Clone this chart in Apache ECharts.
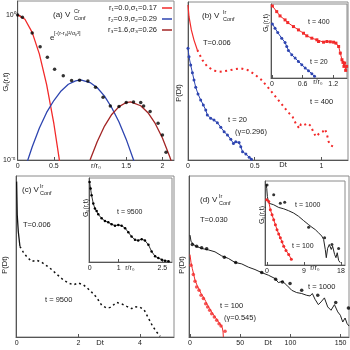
<!DOCTYPE html>
<html>
<head>
<meta charset="utf-8">
<script src="https://cdn.jsdelivr.net/npm/echarts@6/dist/echarts.min.js"></script>
<style>
  html, body { margin: 0; padding: 0; background: #fff; }
  #chart { width: 350px; height: 350px; }
</style>
</head>
<body>
<div id="chart"></div>
<script>
// ---- data ----
// (a) log10 G_s vs r/r0
var aRed = [[0, 0], [0.1, -0.15], [0.2, -0.6], [0.3, -1.35], [0.4, -2.4], [0.5, -3.75], [0.57, -4.9], [0.6, -5.4]];
var aBlue = [[0.1, -5.3], [0.2, -4.55], [0.3, -3.9], [0.4, -3.36], [0.5, -2.95], [0.6, -2.62], [0.7, -2.39], [0.8, -2.27],
  [0.87, -2.24], [1.0, -2.33], [1.1, -2.51], [1.2, -2.8], [1.3, -3.2], [1.4, -3.69], [1.5, -4.29], [1.6, -4.99], [1.65, -5.4]];
var aDark = [[1.0, -5.0], [1.1, -4.36], [1.2, -3.83], [1.3, -3.43], [1.4, -3.16], [1.5, -3.02], [1.56, -3.0], [1.7, -3.13],
  [1.8, -3.37], [1.9, -3.74], [2.0, -4.24], [2.1, -4.88], [2.2, -5.6]];
var aDots = [[0, 0], [0.065, -0.08], [0.2, -0.62], [0.31, -1.1], [0.41, -1.46], [0.51, -1.87], [0.63, -2.1], [0.745, -2.26],
  [0.855, -2.25], [0.97, -2.28], [1.076, -2.49], [1.18, -2.84], [1.28, -3.14], [1.4, -3.16], [1.5, -3.02], [1.6, -3.0],
  [1.7, -3.02], [1.74, -3.14], [1.83, -3.33], [1.94, -3.73], [2.0, -4.14], [2.05, -4.73]];
var aLegend = ['r\u2081=0.0,\u03c3\u2081=0.17', 'r\u2082=0.9,\u03c3\u2082=0.29', 'r\u2083=1.6,\u03c3\u2083=0.26'];

// (b) P(Dt), height in % of the frame
var bT20 = [[0, 70.7], [0.0075, 65.4], [0.02, 60.1], [0.033, 55.3], [0.045, 50.6], [0.058, 46.0], [0.075, 41.8], [0.095, 38.0],
  [0.115, 34.8], [0.133, 31.6], [0.145, 28.5], [0.17, 26.4], [0.195, 25.3], [0.22, 23.6], [0.246, 20.7], [0.271, 17.9],
  [0.296, 15.8], [0.321, 13.1], [0.341, 10.5], [0.358, 11.6], [0.383, 11.0], [0.396, 8.4], [0.409, 5.3], [0.434, 3.8],
  [0.459, 1.7], [0.476, 0.4]];
var bT400 = [[0, 98.1], [0.0075, 90.7], [0.025, 82.3], [0.045, 75.9], [0.07, 69.6], [0.108, 63.3], [0.145, 59.1], [0.195, 56.5],
  [0.246, 55.9], [0.296, 56.5], [0.346, 57.4], [0.396, 58.0], [0.446, 57.0], [0.496, 54.4], [0.546, 51.1], [0.596, 46.4],
  [0.647, 41.1], [0.697, 35.9], [0.747, 30.6], [0.784, 27.4], [0.81, 22.8], [0.835, 20.0], [0.847, 22.8], [0.872, 22.2],
  [0.897, 23.2], [0.922, 21.5], [0.942, 17.3], [0.96, 14.8], [0.985, 16.9], [1.01, 17.9], [1.028, 19.6], [1.043, 15.8],
  [1.055, 11.6], [1.073, 9.1], [1.093, 8.4]];
// (b) inset G_s(r,t)
var biT400 = [[0.007, 97.3], [0.092, 89.7], [0.157, 83.9], [0.256, 78.5], [0.308, 74.9], [0.42, 69.5], [0.518, 65.0], [0.617, 60.5],
  [0.682, 57.0], [0.78, 53.8], [0.879, 51.6], [0.912, 49.3], [1.01, 48.4], [1.076, 49.3], [1.142, 48.9], [1.207, 48.4],
  [1.253, 47.1], [1.306, 42.6], [1.339, 33.6], [1.371, 24.7], [1.391, 21.1], [1.41, 15.7], [1.424, 20.2], [1.444, 10.3], [1.463, 15.7]];
var biT20 = [[0.007, 73.1], [0.059, 67.3], [0.112, 61.4], [0.19, 53.8], [0.256, 48.0], [0.289, 42.6], [0.322, 37.2], [0.387, 31.4],
  [0.453, 26.9], [0.518, 22.4], [0.584, 17.9], [0.65, 13.5], [0.715, 9.9], [0.781, 5.8], [0.833, 2.2]];

// (c)
var cT9500 = [[0, 96.5], [0.02, 75.8], [0.054, 65.5], [0.108, 56.2], [0.216, 52.7], [0.324, 50.0], [0.486, 46.9], [0.649, 47.7],
  [0.81, 46.5], [1.08, 42.8], [1.3, 39.0], [1.51, 35.5], [1.68, 33.5], [1.84, 32.4], [2.0, 33.5], [2.16, 32.4], [2.29, 30.4],
  [2.43, 27.9], [2.59, 24.6], [2.76, 19.6], [2.92, 18.0], [3.03, 18.4], [3.14, 20.0], [3.24, 21.5], [3.41, 20.5], [3.57, 19.0],
  [3.73, 17.6], [3.84, 18.8], [4.0, 18.4], [4.13, 16.9], [4.27, 11.8], [4.41, 6.6], [4.54, 3.1], [4.65, 0.4]];
var ciT9500 = [[0, 95.3], [0.034, 87.4], [0.069, 79.5], [0.126, 69.7], [0.183, 63.8], [0.241, 60.6], [0.298, 56.7], [0.413, 52.0],
  [0.528, 48.8], [0.642, 47.2], [0.757, 44.9], [0.872, 43.3], [0.986, 44.1], [1.1, 43.3], [1.22, 40.2], [1.33, 35.4], [1.44, 30.3],
  [1.56, 26.4], [1.67, 25.6], [1.79, 27.2], [1.9, 25.6], [2.02, 20.5], [2.13, 12.6], [2.25, 6.7], [2.36, 4.7], [2.48, 2.8],
  [2.59, 1.6], [2.71, 0.8]];

// (d)
var dT1000Line = [[0, 63.3], [1.0, 59.5], [3.3, 57.5], [6.6, 56.2], [11.6, 55.0], [18.3, 54.1], [24.9, 52.9], [31.5, 50.4],
  [38.2, 48.8], [44.8, 46.3], [51.5, 45.4], [58.1, 43.4], [64.7, 41.9], [71.4, 40.0], [78.0, 38.4], [84.7, 36.3], [88.0, 33.8],
  [92.0, 34.6], [96.3, 32.2], [101.3, 29.0], [106.2, 27.6], [111.2, 27.0], [116.2, 25.9], [119.5, 25.5], [121.8, 27.0],
  [124.5, 23.4], [127.8, 20.1], [130.5, 21.8], [133.8, 24.3], [137.1, 18.7], [140.4, 16.6], [143.8, 20.1], [147.1, 15.6],
  [149.7, 13.5], [152.1, 9.3], [154.4, 11.8], [156.4, 8.3], [158.4, 6.8]];
var dT1000Dots = [[2.3, 57.5], [6.6, 56.4], [11.6, 55.4], [16.6, 54.8], [34.2, 49.6], [45.5, 46.3], [71.4, 40.0], [85.3, 35.9],
  [92.0, 34.2], [99.6, 33.2], [111.2, 29.0], [127.2, 25.9], [145.1, 21.4], [157.7, 18.0]];
var dT100Line = [[0, 51.2], [1.0, 46.3], [2.3, 42.5], [3.7, 38.8], [5.0, 35.3], [7.0, 32.2], [9.0, 29.7], [11.0, 27.0], [13.3, 24.9],
  [15.6, 22.2], [17.6, 19.7], [19.6, 17.6], [21.6, 15.6], [24.2, 13.1], [26.6, 11.0], [28.9, 8.9], [30.9, 7.3], [32.2, 5.6],
  [32.9, 3.1], [33.2, 0]];
var dT100Dots = [[1.0, 44.6], [3.3, 38.8], [5.0, 34.6], [6.6, 31.1], [9.0, 29.0], [11.0, 25.9], [13.3, 23.9], [15.6, 20.7],
  [17.6, 18.7], [19.6, 16.6], [21.6, 14.5], [24.2, 12.4], [26.6, 10.4], [28.9, 8.3], [30.9, 6.8], [34.9, 3.5]];
var diT1000Line = [[-0.24, 96.1], [-0.08, 91.3], [0.08, 81.5], [0.41, 73.6], [0.81, 74.8], [1.62, 71.7], [2.84, 68.5], [4.06, 66.9],
  [5.27, 64.6], [6.49, 61.8], [7.7, 57.9], [8.92, 52.8], [10.14, 48.0], [10.95, 44.9], [11.76, 42.1], [12.57, 38.2], [13.38, 34.3],
  [13.79, 30.3], [14.19, 18.5], [14.44, 8.7], [14.76, 19.7], [15.17, 24.4], [15.65, 18.5], [15.98, 22.4], [16.46, 12.6],
  [16.79, 8.7], [17.11, 14.6], [17.44, 5.5], [17.84, 2.8]];
var diT1000Dots = [[0, 95.3], [1.62, 83.5], [3.24, 73.6], [4.3, 74.8], [10.14, 44.9], [14.03, 32.3], [15.81, 24.4], [17.44, 19.7]];
var diT100 = [[-0.08, 77.6], [0.41, 75.6], [0.81, 65.7], [1.22, 59.8], [1.62, 53.9], [2.03, 48.0], [2.43, 42.1], [2.84, 37.0],
  [3.24, 32.3], [3.65, 27.6], [4.06, 22.4], [4.62, 17.3], [5.27, 12.6], [5.92, 6.7]];

// tick labels
var aTicks = [0, 0.5, 1.5, 2];
var aYTicks = [0, -5];
var bTicks = [0, 0.5, 1];
var biTicks = [0, 0.6, 1.2];
var cTicks = [0, 2, 4];
var ciTicks = [0, 1, 2.5];
var dTicks = [0, 50, 100, 150];
var diTicks = [0, 9, 18];

// ---- layout ----
var FONT = '"Liberation Sans", Arial, Helvetica, sans-serif';
var RED = '#f22a2a', BLUE = '#2e45b0', DARK = '#a32525';

// grids: a, b, b-inset, c, c-inset, d, d-inset
var grids = [
  { left: 16, top: 1, width: 158, height: 159 },
  { left: 188, top: 2, width: 160, height: 158 },
  { left: 271, top: 4, width: 76, height: 74 },
  { left: 16, top: 176, width: 158, height: 161 },
  { left: 89, top: 178, width: 83, height: 84 },
  { left: 189, top: 176, width: 160, height: 161 },
  { left: 265, top: 181, width: 80, height: 84 }
].map(function (g) {
  return Object.assign({ show: true, borderColor: '#8a8a8a', borderWidth: 1, backgroundColor: '#fff' }, g);
});

function xAx(i, min, max, ticks, fmt) {
  return {
    type: 'value', gridIndex: i, min: min, max: max,
    axisLine: { show: true, onZero: false, lineStyle: { color: '#555', width: 1 } },
    axisTick: { show: true, inside: true, length: 3, customValues: ticks, lineStyle: { color: '#555' } },
    axisLabel: { show: true, customValues: ticks, fontSize: 7, margin: 3, color: '#222', fontFamily: FONT, formatter: fmt },
    splitLine: { show: false }
  };
}
function yAx(i, min, max) {
  return {
    type: 'value', gridIndex: i, min: min, max: max,
    axisLine: { show: true, onZero: false, lineStyle: { color: '#555', width: 1 } },
    axisTick: { show: false }, axisLabel: { show: false }, splitLine: { show: false }
  };
}

var xAxes = [
  xAx(0, 0, 2.16, aTicks),
  xAx(1, 0, 1.2, bTicks),
  xAx(2, -0.02, 1.47, biTicks),
  xAx(3, -0.02, 5.1, cTicks),
  xAx(4, -0.02, 2.83, ciTicks),
  xAx(5, -1, 158.3, dTicks),
  xAx(6, -0.5, 19, diTicks)
];
var yAxes = [yAx(0, -5, 0.48), yAx(1, 0, 100), yAx(2, 0, 100), yAx(3, 0, 100), yAx(4, 0, 100), yAx(5, 0, 100), yAx(6, 0, 100)];
yAxes[0].axisTick = { show: true, inside: true, length: 3, customValues: aYTicks, lineStyle: { color: '#555' } };
yAxes[0].axisLabel = {
  show: true, customValues: aYTicks, fontSize: 7, margin: 2, color: '#222', fontFamily: FONT,
  formatter: function (v) { return v === 0 ? '10\u2070' : '10\u207b\u2075'; }
};

function line(i, data, color, w, extra) {
  return Object.assign({
    type: 'line', xAxisIndex: i, yAxisIndex: i, data: data, symbol: 'none', silent: true,
    lineStyle: { color: color, width: w }, itemStyle: { color: color }, z: 3
  }, extra || {});
}
function dots(i, data, color, size, sym) {
  return {
    type: 'scatter', xAxisIndex: i, yAxisIndex: i, data: data, symbol: sym || 'circle', symbolSize: size,
    itemStyle: { color: color }, silent: true, z: 4
  };
}

var series = [
  line(0, aRed, RED, 1.3, { name: aLegend[0] }),
  line(0, aBlue, BLUE, 1.3, { name: aLegend[1] }),
  line(0, aDark, DARK, 1.3, { name: aLegend[2] }),
  dots(0, aDots, '#000', 3.5),

  line(1, bT400.slice(0, 5), RED, 1.2),
  line(1, bT400.slice(4), RED, 2, { lineStyle: { color: RED, width: 2, type: [2, 3.5] } }),
  line(1, bT20, BLUE, 1, { symbol: 'circle', symbolSize: 3, showSymbol: true }),

  line(2, biT400, RED, 1, { symbol: 'rect', symbolSize: 3, showSymbol: true }),
  line(2, biT20, BLUE, 1, { symbol: 'circle', symbolSize: 3, showSymbol: true }),

  line(3, cT9500.slice(0, 4), '#111', 1.3),
  line(3, cT9500.slice(3), '#111', 1.5, { lineStyle: { color: '#111', width: 1.5, type: [2, 3] } }),

  line(4, ciT9500, '#333', 1, { symbol: 'circle', symbolSize: 2.5, showSymbol: true, itemStyle: { color: '#000' } }),

  line(5, dT1000Line, '#222', 1),
  dots(5, dT1000Dots, '#000', 3.5),
  line(5, dT100Line, RED, 1),
  dots(5, dT100Dots, RED, 3.5),

  line(6, diT1000Line, '#222', 1),
  dots(6, diT1000Dots, '#000', 3),
  line(6, diT100, RED, 1, { symbol: 'circle', symbolSize: 3, showSymbol: true })
];

function txt(x, y, s, size, opt) {
  opt = opt || {};
  return {
    type: 'text', x: x, y: y, rotation: opt.rot || 0, z: 100, silent: true,
    style: {
      text: s, fontSize: size || 7.5, fontFamily: FONT, fill: opt.color || '#222',
      align: opt.align || 'left', verticalAlign: 'middle'
    }
  };
}
function vconf(x, y, pre, sup, sx) {
  return [txt(x, y, pre, 8), txt(sx, y - 4, sup, 5.5), txt(sx, y + 3.5, 'Conf', 5.5)];
}
function ylab(x, y, s, size) {
  return txt(x, y, s, size || 7.5, { rot: Math.PI / 2, align: 'center' });
}

var texts = [].concat(
  // (a)
  vconf(53, 15, '(a) V', 'Cr', 74),
  [txt(50, 38, 'e', 8), txt(54, 33, '[-(r-r\u209a)\u00b2/\u03c3\u209a\u00b2]', 5.5)],
  [ylab(6, 82, 'G\u209b(r,t)'), txt(96, 166, 'r/r\u2080', 7.5, { align: 'center' })],
  // (b)
  vconf(202, 16, '(b) V', 'Ir', 223),
  [txt(203, 43, 'T=0.006'), txt(310, 102, 't = 400'), txt(228, 120, 't = 20'), txt(235, 132, '(\u03b3=0.296)'),
   ylab(179, 93, 'P(Dt)'), txt(283, 165, 'Dt', 7.5, { align: 'center' })],
  [ylab(266, 23, 'G\u209b(r,t)', 7), txt(308, 22, 't = 400', 7), txt(310, 62, 't = 20', 7),
   txt(318, 82, 'r/r\u2080', 7, { align: 'center' })],
  // (c)
  vconf(22, 190, '(c) V', 'Ir', 40),
  [txt(23, 225, 'T=0.006'), txt(45, 300, 't = 9500'), ylab(5, 265, 'P(Dt)'),
   txt(100, 343, 'Dt', 7.5, { align: 'center' })],
  [txt(117, 212, 't = 9500', 7), ylab(86, 208, 'G\u209b(r,t)', 7), txt(130, 268, 'r/r\u2080', 7, { align: 'center' })],
  // (d)
  vconf(200, 200, '(d) V', 'Ir', 219),
  [txt(200, 220, 'T=0.030'), txt(308, 287, 't = 1000'), txt(220, 306, 't = 100'), txt(224, 318, '(\u03b3=0.545)'),
   ylab(182, 265, 'P(Dt)'), txt(268, 343, 'Dt', 7.5, { align: 'center' })],
  [txt(295, 205, 't = 1000', 7), txt(292, 246, 't = 100', 7), ylab(262, 215, 'G\u209b(r,t)', 7),
   txt(315, 268, 'r/r\u2080', 7, { align: 'center' })]
);

var chart = echarts.init(document.getElementById('chart'), null, { renderer: 'canvas' });
chart.setOption({
  animation: false,
  backgroundColor: '#fff',
  grid: grids,
  xAxis: xAxes,
  yAxis: yAxes,
  legend: {
    data: aLegend, orient: 'vertical', right: 178, top: 4, padding: 0, align: 'right',
    icon: 'rect', itemWidth: 10, itemHeight: 1.5, itemGap: 3, selectedMode: false,
    textStyle: { fontSize: 7.5, fontFamily: FONT, color: '#222', padding: [0, 0, 0, 0] }
  },
  series: series,
  graphic: texts
});
</script>
</body>
</html>
